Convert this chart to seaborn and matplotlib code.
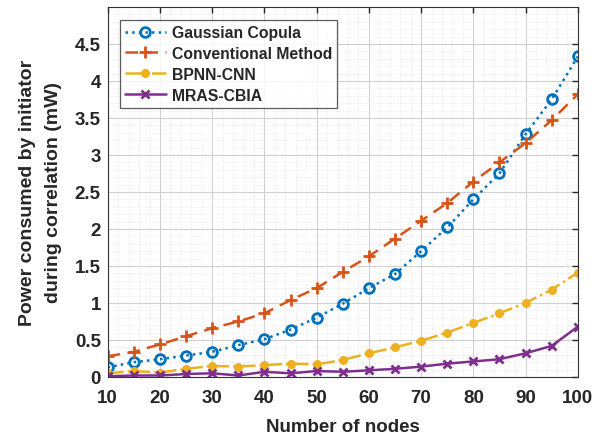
import numpy as np
import pandas as pd
import matplotlib
matplotlib.use("Agg")
import matplotlib.pyplot as plt
import seaborn as sns
from matplotlib.ticker import MultipleLocator

# values
nodes = [10, 15, 20, 25, 30, 35, 40, 45, 50, 55, 60, 65, 70, 75, 80, 85, 90, 95, 100]
gaussian_copula = [0.13, 0.20, 0.24, 0.29, 0.34, 0.43, 0.51, 0.64, 0.80, 0.99, 1.20, 1.39,
                   1.70, 2.02, 2.40, 2.75, 3.28, 3.75, 4.33]
conventional = [0.28, 0.34, 0.44, 0.55, 0.66, 0.75, 0.86, 1.04, 1.20, 1.42, 1.63, 1.87,
                2.11, 2.35, 2.64, 2.90, 3.16, 3.47, 3.82]
bpnn_cnn = [0.05, 0.08, 0.06, 0.11, 0.15, 0.14, 0.16, 0.18, 0.17, 0.23, 0.32, 0.40,
            0.49, 0.60, 0.73, 0.86, 1.00, 1.18, 1.41]
mras_cbia = [0.01, 0.02, 0.02, 0.04, 0.05, 0.02, 0.07, 0.05, 0.08, 0.07, 0.09, 0.11,
             0.14, 0.18, 0.21, 0.24, 0.32, 0.42, 0.68]
ytick_labels = ["0", "0.5", "1", "1.5", "2", "2.5", "3", "3.5", "4", "4.5"]

series = {
    "Gaussian Copula": gaussian_copula,
    "Conventional Method": conventional,
    "BPNN-CNN": bpnn_cnn,
    "MRAS-CBIA": mras_cbia,
}
styles = {
    "Gaussian Copula": dict(color="#0072BD", ls=":", marker="o", mfc="none", ms=7, mew=2),
    "Conventional Method": dict(color="#D95319", ls=(0, (5, 3)), marker="+", ms=8, mew=2),
    "BPNN-CNN": dict(color="#EDB120", ls="-.", marker="o", mfc="#EDB120", ms=5.5, mew=1),
    "MRAS-CBIA": dict(color="#7E2F8E", ls="-", marker="x", ms=5.5, mew=2),
}

sns.set_style("white")
plt.rcParams["font.family"] = ["Liberation Sans", "DejaVu Sans"]
plt.rcParams["font.weight"] = "bold"

fig = plt.figure(figsize=(5.92, 4.39), dpi=100)
ax = fig.add_axes([0.182, 0.139, 0.794, 0.843])

for name, vals in series.items():
    df = pd.DataFrame({"nodes": nodes, "power": vals})
    st = styles[name]
    sns.lineplot(data=df, x="nodes", y="power", ax=ax, label=name,
                 color=st["color"], linestyle=st["ls"], marker=st["marker"],
                 markersize=st["ms"], markeredgewidth=st["mew"],
                 markerfacecolor=st.get("mfc", st["color"]),
                 markeredgecolor=st["color"], linewidth=1.8)

ax.set_xlim(10, 100)
ax.set_ylim(0, 5)
ax.xaxis.set_major_locator(MultipleLocator(10))
ax.xaxis.set_minor_locator(MultipleLocator(2))
ax.yaxis.set_minor_locator(MultipleLocator(0.1))
ax.set_yticks(np.arange(0, 5, 0.5))
ax.set_yticklabels(ytick_labels)
ax.grid(which="major", color="#d0d0d0", lw=0.8)
ax.grid(which="minor", color="#e4e4e4", lw=0.6, ls=":")
ax.tick_params(which="major", direction="in", top=True, right=True, length=4,
               labelsize=13.5, width=1)
ax.tick_params(axis="x", pad=9)
ax.tick_params(axis="y", pad=5)
ax.tick_params(which="minor", length=0)
for lbl in ax.get_xticklabels() + ax.get_yticklabels():
    lbl.set_fontweight("bold")
for sp in ax.spines.values():
    sp.set_color("#333333")
    sp.set_linewidth(0.8)

ax.set_xlabel("Number of nodes", fontsize=13.5, fontweight="bold")
ax.xaxis.set_label_coords(0.5, -0.112)
ax.set_ylabel("Power consumed by initiator\nduring correlation (mW)", fontsize=14,
              fontweight="bold", linespacing=1.7)
ax.yaxis.set_label_coords(-0.097, 0.5)

leg = ax.legend(loc="upper left", bbox_to_anchor=(0.01, 0.985),
                prop={"weight": "bold", "size": 11.3}, frameon=True, fancybox=False,
                edgecolor="#333333", handlelength=2.6, borderpad=0.3,
                labelspacing=0.38, handletextpad=0.4)
leg.get_frame().set_linewidth(0.9)

fig.savefig("out.png", dpi=100)
